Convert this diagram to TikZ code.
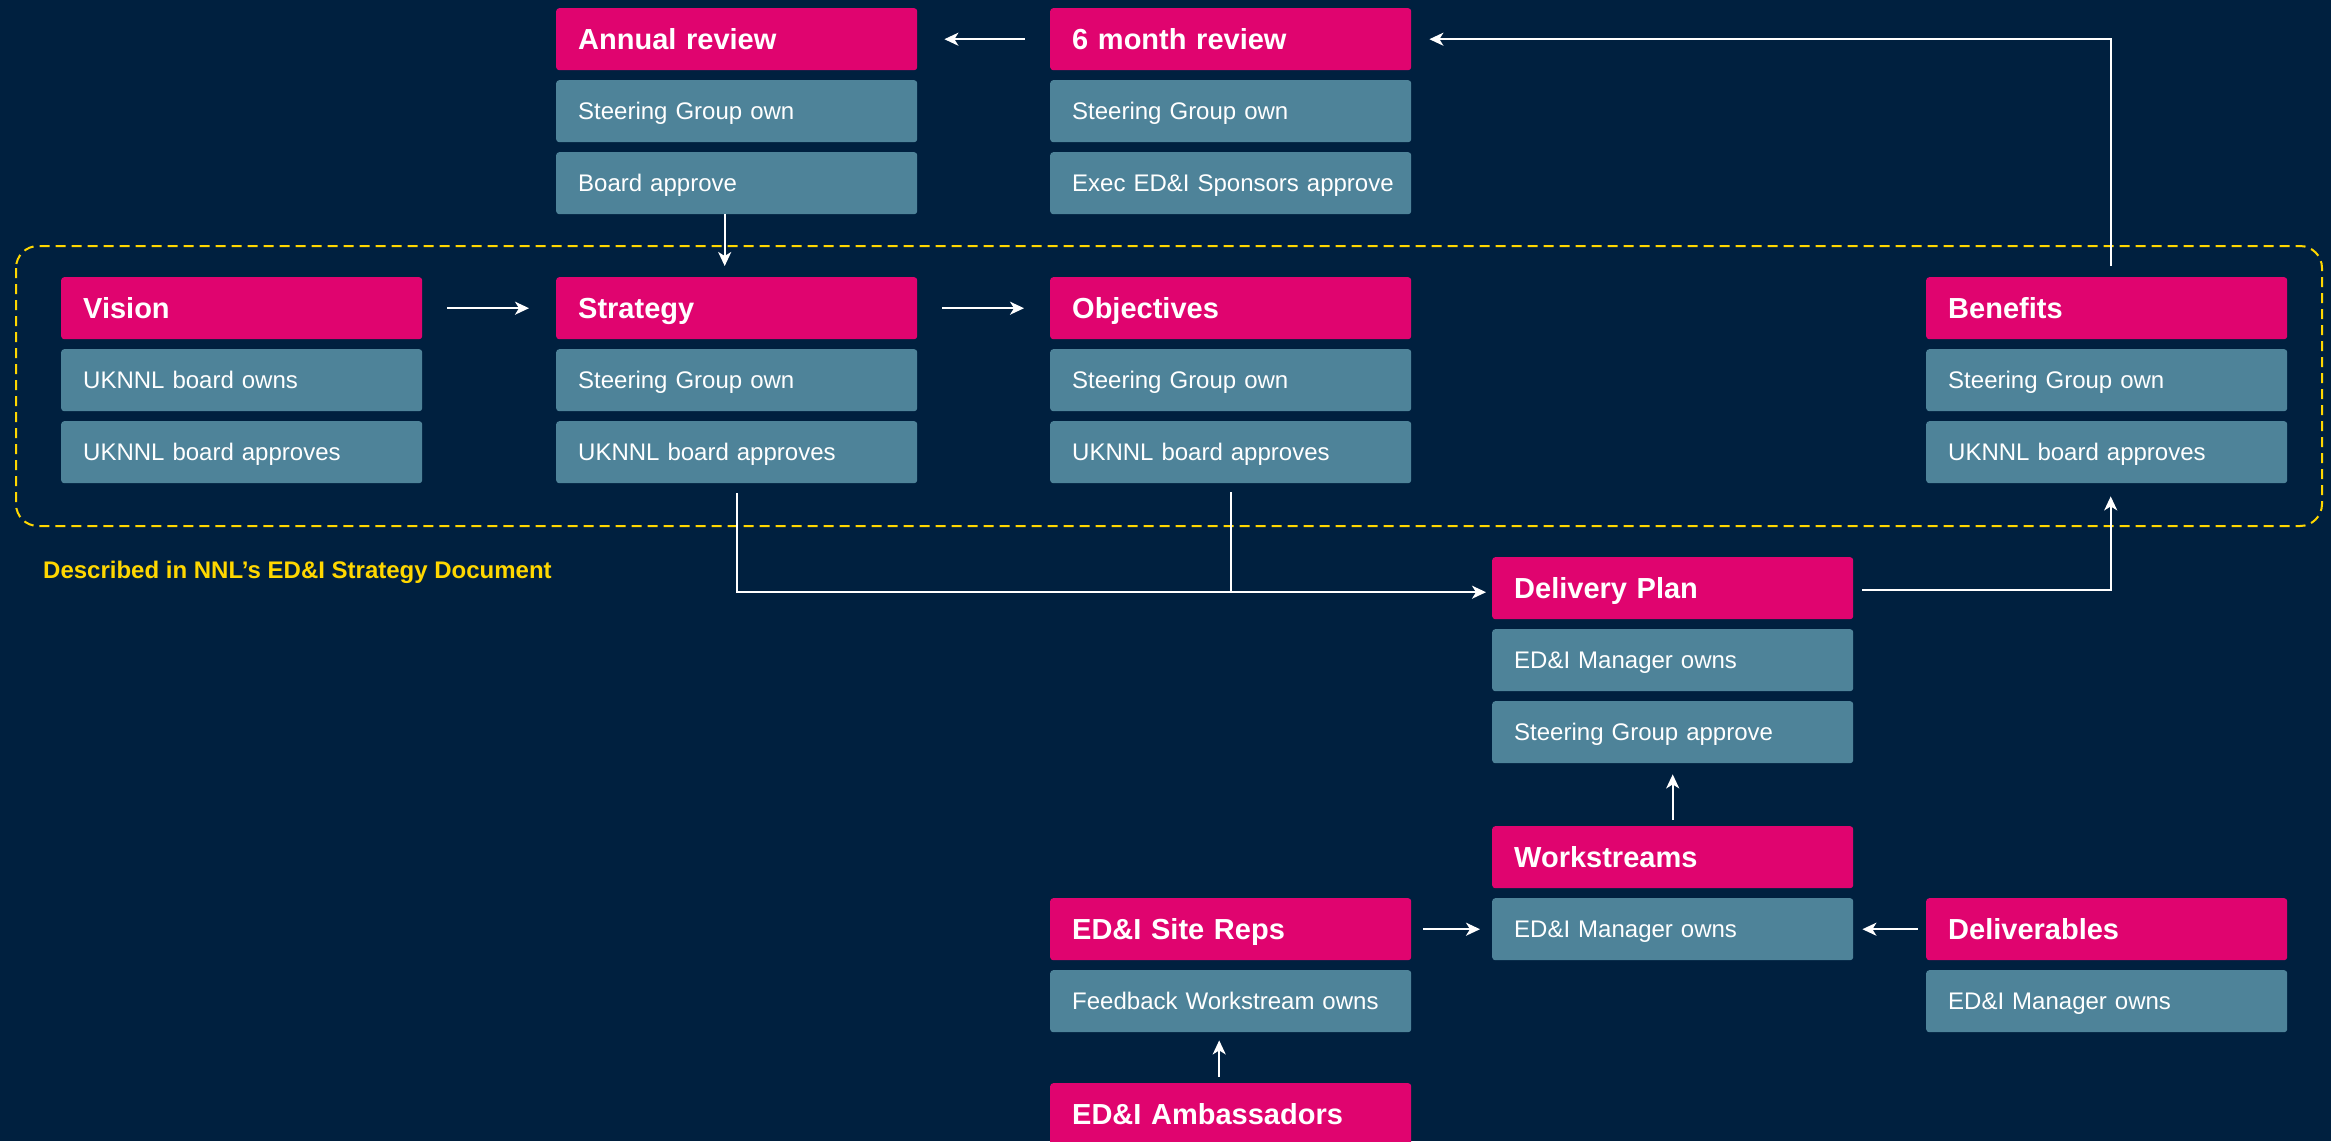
\documentclass[tikz,border=0pt]{standalone}
\usepackage{fontspec}
\setmainfont{Liberation Sans}
\usetikzlibrary{arrows.meta}
\definecolor{bg}{HTML}{00203F}
\definecolor{mag}{HTML}{E0046F}
\definecolor{tealbox}{HTML}{4E8399}
\definecolor{ylw}{HTML}{FFD700}
\begin{document}
\begin{tikzpicture}[x=1pt,y=-1pt,
  box/.style={rectangle, rounded corners=3pt, anchor=north west, minimum height=62pt,
    text width=317pt, inner xsep=22pt, inner ysep=0pt, align=left, text=white, text depth=0pt},
  head/.style={box, fill=mag, text height=21pt, font=\bfseries\fontsize{29}{34}\selectfont},
  sub/.style={box, fill=tealbox, text height=17pt, font=\fontsize{24}{28}\selectfont},
  conn/.style={draw=white, line width=2pt},
  arr/.style={conn, -{Stealth[length=14pt,width=13pt,inset=4pt]}},
  dashbox/.style={draw=ylw, line width=2pt, dash pattern=on 10pt off 6pt, rounded corners=22pt}]
\fill[bg] (0,0) rectangle (2331,1141);
\useasboundingbox (0,0) rectangle (2331,1141);

% dashed scope
\draw[dashbox] (16,246) rectangle (2322,526);
\node[anchor=base west, text=ylw, inner sep=0pt, font=\bfseries\fontsize{24}{28}\selectfont] (doc) at (43,578) {Described in NNL’s ED\&I Strategy Document};

% top row
\node[head] (annual) at (556,8) {Annual review};
\node[sub] (annualo) at (556,80) {Steering Group own};
\node[sub] (annuala) at (556,152) {Board approve};
\node[head] (six) at (1050,8) {6 month review};
\node[sub] (sixo) at (1050,80) {Steering Group own};
\node[sub] (sixa) at (1050,152) {\mbox{Exec ED\&I Sponsors approve}};

% strategy row
\node[head] (vision) at (61,277) {Vision};
\node[sub] (visiono) at (61,349) {UKNNL board owns};
\node[sub] (visiona) at (61,421) {UKNNL board approves};
\node[head] (strategy) at (556,277) {Strategy};
\node[sub] (strategyo) at (556,349) {Steering Group own};
\node[sub] (strategya) at (556,421) {UKNNL board approves};
\node[head] (objectives) at (1050,277) {Objectives};
\node[sub] (objectiveso) at (1050,349) {Steering Group own};
\node[sub] (objectivesa) at (1050,421) {UKNNL board approves};
\node[head] (benefits) at (1926,277) {Benefits};
\node[sub] (benefitso) at (1926,349) {Steering Group own};
\node[sub] (benefitsa) at (1926,421) {UKNNL board approves};

% delivery
\node[head] (delivery) at (1492,557) {Delivery Plan};
\node[sub] (deliveryo) at (1492,629) {ED\&I Manager owns};
\node[sub] (deliverya) at (1492,701) {Steering Group approve};
\node[head] (work) at (1492,826) {Workstreams};
\node[sub] (worko) at (1492,898) {ED\&I Manager owns};
\node[head] (site) at (1050,898) {ED\&I Site Reps};
\node[sub] (siteo) at (1050,970) {Feedback Workstream owns};
\node[head] (amb) at (1050,1083) {ED\&I Ambassadors};
\node[head] (deliv) at (1926,898) {Deliverables};
\node[sub] (delivo) at (1926,970) {ED\&I Manager owns};

% connectors
\draw[arr] ([xshift=25pt]vision.east) -- ([xshift=-27pt]strategy.west);
\draw[arr] ([xshift=25pt]strategy.east) -- ([xshift=-26pt]objectives.west);
\draw[arr] ([xshift=-25pt]six.west) -- ([xshift=27pt]annual.east);
\draw[arr] ([xshift=-12pt]annuala.south) -- ([xshift=-12pt,yshift=11pt]strategy.north);
\draw[arr] ([xshift=4pt,yshift=11pt]benefits.north) |- ([xshift=18pt]six.east);
\coordinate (dp) at ([xshift=-6pt,yshift=-4pt]delivery.west);
\draw[arr] ([yshift=-10pt]strategya.south) |- (dp);
\draw[conn] ([yshift=-9pt]objectivesa.south) -- (objectivesa.south |- dp);
\draw[arr] ([xshift=9pt,yshift=-2pt]delivery.east) -| ([xshift=4pt,yshift=-13pt]benefitsa.south);
\draw[arr] ([yshift=6pt]work.north) -- ([yshift=-11pt]deliverya.south);
\draw[arr] ([xshift=12pt]site.east) -- ([xshift=-12pt]worko.west);
\draw[arr] ([xshift=-8pt]deliv.west) -- ([xshift=9pt]worko.east);
\draw[arr] ([xshift=-11.5pt,yshift=6pt]amb.north) -- ([xshift=-11.5pt,yshift=-8pt]siteo.south);
\end{tikzpicture}
\end{document}
